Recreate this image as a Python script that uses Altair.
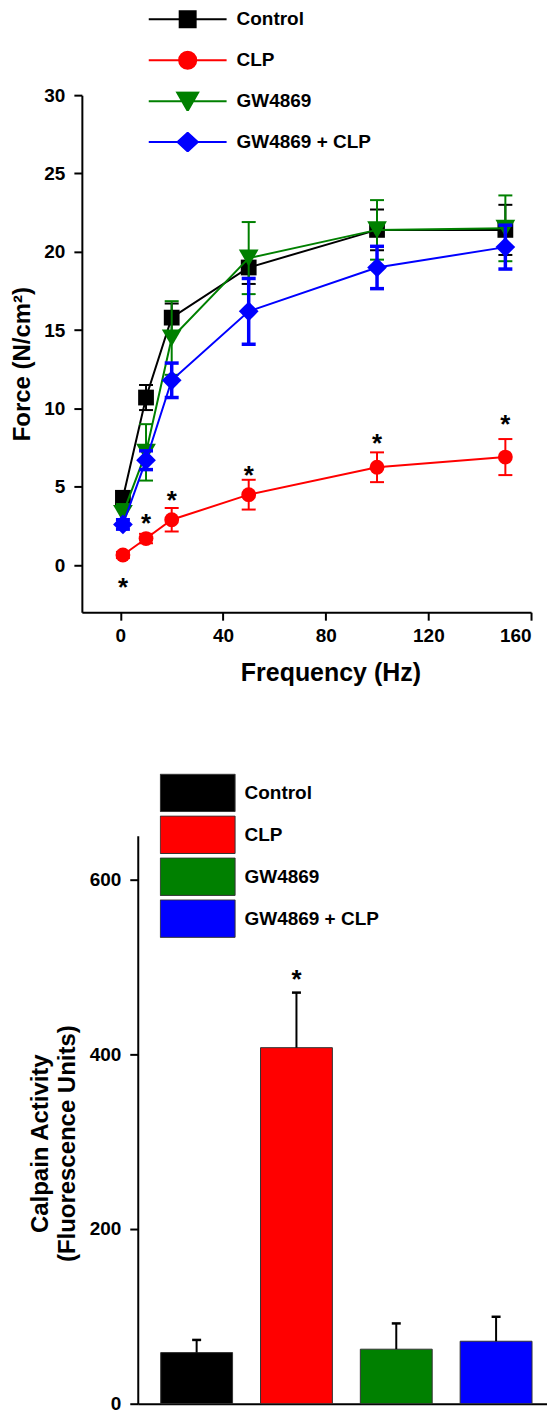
import altair as alt
import pandas as pd

# ---------------- data ----------------
series = ["Control", "CLP", "GW4869", "GW4869 + CLP"]
colors = ["#000000", "#FF0000", "#008000", "#0000FF"]
shapes = ["square", "circle", "triangle-down", "diamond"]
marker_sizes = [250, 220, 390, 390]
err_widths = [2, 2, 2, 3.5]

freq = [1, 10, 20, 50, 100, 150]
force_control = [4.3, 10.7, 15.8, 19.0, 21.4, 21.4]
err_control = [0.4, 0.8, 0.9, 1.05, 1.3, 1.6]
force_clp = [0.65, 1.7, 2.9, 4.5, 6.25, 6.9]
err_clp = [0.2, 0.3, 0.75, 0.95, 0.95, 1.15]
force_gw = [3.3, 7.2, 14.5, 19.6, 21.4, 21.5]
err_gw = [0.6, 1.8, 2.35, 2.3, 1.9, 2.1]
force_gwclp = [2.6, 6.7, 11.8, 16.2, 19.0, 20.3]
err_gwclp = [0.3, 0.6, 1.1, 2.1, 1.35, 1.4]

star_freq = [1, 10, 20, 50, 100, 150]
star_force = [-1.1, 3.0, 4.5, 6.1, 8.1, 9.3]

calpain = [58.5, 407.5, 62.4, 71.5]
calpain_err = [14.5, 63.0, 29.5, 28.0]
calpain_star_group = ["CLP"]
calpain_star_value = [492]

# legend symbols: line through a marker (unit box -1..1)
legend_paths = [
    "M-1,0H1M-0.205,-0.205H0.205V0.205H-0.205Z",
    "M-1,0H1M0.22,0A0.22,0.22,0,1,1,-0.22,0A0.22,0.22,0,1,1,0.22,0Z",
    "M-1,0H1M-0.27,-0.22L0.27,-0.22L0,0.25Z",
    "M-1,0H1M0,-0.24L0.26,0L0,0.24L-0.26,0Z",
]
bar_legend_path = "M-1,-0.5H1V0.5H-1Z"

FONT = "Liberation Sans"

# ---------------- top chart ----------------
rows = []
for name, vals, errs in [
    ("Control", force_control, err_control),
    ("CLP", force_clp, err_clp),
    ("GW4869", force_gw, err_gw),
    ("GW4869 + CLP", force_gwclp, err_gwclp),
]:
    for f, v, e in zip(freq, vals, errs):
        rows.append({"series": name, "freq": f, "force": v, "lo": v - e, "hi": v + e})
df_top = pd.DataFrame(rows)
df_star = pd.DataFrame({"freq": star_freq, "force": star_force})
df_leg = pd.DataFrame({"series": series})

xs = alt.Scale(domain=[-15, 160], nice=False, zero=False)
ys = alt.Scale(domain=[-3, 30], nice=False, zero=False)
xaxis = alt.Axis(values=[0, 40, 80, 120, 160], title="Frequency (Hz)", labelPadding=6,
                 titleX=249, titleY=68, titleBaseline="alphabetic", titleFontSize=25)
yaxis = alt.Axis(values=[0, 5, 10, 15, 20, 25, 30], title="Force (N/cm²)", labelPadding=9,
                 titlePadding=9, titleY=269)

X = lambda f: alt.X(f, scale=xs, axis=xaxis)
Y = lambda f: alt.Y(f, scale=ys, axis=yaxis)

layers = []
for name, color, shape, msize, ew in zip(series, colors, shapes, marker_sizes, err_widths):
    base = alt.Chart(df_top).transform_filter(alt.datum.series == name)
    err = base.mark_rule(color=color, strokeWidth=ew).encode(x=X("freq:Q"), y=Y("lo:Q"), y2="hi:Q")
    caps = base.transform_fold(["lo", "hi"], as_=["end", "val"]).mark_tick(
        color=color, orient="horizontal", size=14, thickness=ew, opacity=1
    ).encode(x=X("freq:Q"), y=Y("val:Q"))
    line = base.mark_line(color=color, strokeWidth=2).encode(x=X("freq:Q"), y=Y("force:Q"))
    pts = base.mark_point(shape=shape, filled=True, size=msize, color=color, opacity=1).encode(
        x=X("freq:Q"), y=Y("force:Q"))
    layers += [line, err, caps, pts]

stars = alt.Chart(df_star).mark_text(text="*", fontSize=26, fontWeight="bold", font=FONT,
                                     baseline="middle", dy=6, color="black").encode(
    x=X("freq:Q"), y=Y("force:Q"))

leg = alt.Legend(orient="none", legendX=66, legendY=-86, title=None, symbolSize=6084,
                 symbolStrokeWidth=2, clipHeight=20, rowPadding=21, labelFont=FONT,
                 labelFontSize=19, labelFontWeight="bold", labelColor="black", labelOffset=9,
                 symbolOpacity=1, padding=0)
legend_layer = alt.Chart(df_leg).mark_point(filled=True, opacity=0, size=6084).encode(
    fill=alt.Fill("series:N", sort=series, scale=alt.Scale(domain=series, range=colors), legend=leg),
    stroke=alt.Stroke("series:N", sort=series, scale=alt.Scale(domain=series, range=colors), legend=leg),
    shape=alt.Shape("series:N", sort=series, scale=alt.Scale(domain=series, range=legend_paths), legend=leg),
)

top = alt.layer(*layers, stars, legend_layer).properties(width=450, height=518)

# ---------------- bottom chart ----------------
df_bot = pd.DataFrame({
    "group": series,
    "calpain": calpain,
    "hi": [v + e for v, e in zip(calpain, calpain_err)],
})
df_bstar = pd.DataFrame({"group": calpain_star_group, "value": calpain_star_value})

bx = alt.Scale(domain=series, range=[56, 466], paddingInner=0.28, paddingOuter=0.19, align=0.605)
bxaxis = alt.Axis(labels=False, ticks=False, title=None)
bys = alt.Scale(domain=[0, 650], nice=False)
byaxis = alt.Axis(values=[0, 200, 400, 600], offset=-56, labelPadding=9, titlePadding=10,
                  title=["Calpain Activity", "(Fluorescence Units)"], titleLineHeight=27, titleY=308)

BX = alt.X("group:N", sort=series, scale=bx, axis=bxaxis)
bars = alt.Chart(df_bot).mark_bar(stroke="#333333", strokeWidth=1).encode(
    x=BX,
    y=alt.Y("calpain:Q", scale=bys, axis=byaxis),
    color=alt.Color("group:N", sort=series, scale=alt.Scale(domain=series, range=colors),
                    legend=alt.Legend(orient="none", legendX=78, legendY=-62.5, title=None,
                                      symbolType=bar_legend_path, symbolSize=5625,
                                      symbolStrokeColor="#333333", symbolStrokeWidth=1,
                                      clipHeight=39, rowPadding=3, labelFont=FONT,
                                      labelFontSize=19, labelFontWeight="bold",
                                      labelColor="black", labelOffset=9, padding=0,
                                      symbolOpacity=1)),
)
berr = alt.Chart(df_bot).mark_rule(color="black", strokeWidth=2).encode(
    x=BX, y=alt.Y("calpain:Q", scale=bys, axis=byaxis), y2="hi:Q")
bcap = alt.Chart(df_bot).mark_tick(color="black", orient="horizontal", size=9, thickness=2.5,
                                   opacity=1).encode(
    x=BX, y=alt.Y("hi:Q", scale=bys, axis=byaxis))
bstar = alt.Chart(df_bstar).mark_text(text="*", fontSize=26, fontWeight="bold", font=FONT,
                                      baseline="middle", dy=6, color="black").encode(
    x=BX, y=alt.Y("value:Q", scale=bys, axis=byaxis))

bottom = alt.layer(bars, berr, bcap, bstar).properties(width=466, height=569)

chart = alt.vconcat(top, bottom, spacing=224, bounds="flush").resolve_scale(
    color="independent", fill="independent", stroke="independent", shape="independent"
).properties(
    padding={"left": 2, "top": 0, "right": 0, "bottom": 0}
).configure_view(stroke=None).configure_axis(
    grid=False, labelFont=FONT, labelFontSize=19, labelFontWeight="bold", labelColor="black",
    titleFont=FONT, titleFontSize=24, titleFontWeight="bold", titleColor="black",
    domainColor="black", domainWidth=2, tickColor="black", tickWidth=2, tickSize=8,
)

chart.save("out.html", embed_options={"renderer": "svg", "actions": False})
